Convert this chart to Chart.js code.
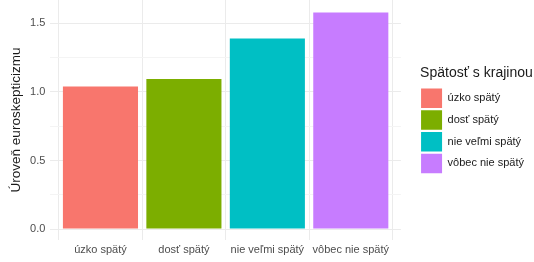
<!DOCTYPE html>
<html>
<head>
<meta charset="utf-8">
<script src="https://cdn.jsdelivr.net/npm/chart.js@4"></script>
<style>
  html, body { margin: 0; padding: 0; background: #ffffff; }
  #wrap { width: 534px; height: 262px; }
</style>
</head>
<body>
<div id="wrap"><canvas id="euroChart"></canvas></div>
<script>
// Data
const categories = ['úzko spätý', 'dosť spätý', 'nie veľmi spätý', 'vôbec nie spätý'];
const values = [1.04, 1.095, 1.39, 1.58];
const barColors = ['#F8766D', '#7CAE00', '#00BFC4', '#C77CFF'];
const yTicks = [0, 0.25, 0.5, 0.75, 1.0, 1.25, 1.5];
const legendTitle = 'Spätosť s krajinou';
const yTitle = 'Úroveň euroskepticizmu';

Chart.defaults.font.family = "'Liberation Sans', Arial, sans-serif";
Chart.defaults.color = '#4d4d4d';

// space kept between the plot and the legend, legend pushed back to the edge
const legendGap = 18;
const legendLift = 10;

const legendShift = {
    id: 'legendShift',
    afterLayout: function(chart) {
        const lg = chart.legend;
        if (!lg) return;
        lg.left += legendGap;
        lg.right += legendGap;
        lg.top -= legendLift;
        lg.bottom -= legendLift;
    }
};

const ctx = document.getElementById('euroChart').getContext('2d');

new Chart(ctx, {
    type: 'bar',
    data: {
        datasets: [{
            label: legendTitle,
            data: values.map((v, i) => ({ x: i + 1, y: v })),
            backgroundColor: barColors,
            borderWidth: 0,
            barPercentage: 0.9,
            categoryPercentage: 1.0
        }]
    },
    options: {
        responsive: true,
        maintainAspectRatio: false,
        animation: false,
        layout: { padding: { top: 0, right: legendGap, left: 0, bottom: 0 } },
        plugins: {
            tooltip: { enabled: false },
            legend: {
                position: 'right',
                align: 'center',
                title: {
                    display: true,
                    text: legendTitle,
                    color: '#1a1a1a',
                    font: { size: 14 },
                    padding: { top: 0, bottom: 3 }
                },
                labels: {
                    boxWidth: 21,
                    boxHeight: 19.5,
                    padding: 2.2,
                    color: '#1a1a1a',
                    font: { size: 11 },
                    generateLabels: function(chart) {
                        return categories.map((c, i) => ({
                            text: c,
                            fillStyle: barColors[i],
                            strokeStyle: barColors[i],
                            lineWidth: 0,
                            hidden: false,
                            index: i
                        }));
                    }
                },
                onClick: function() {}
            }
        },
        scales: {
            x: {
                type: 'linear',
                min: 0.4,
                max: 4.6,
                offset: false,
                afterBuildTicks: function(axis) {
                    axis.ticks = categories.map((c, i) => ({ value: i + 1 }));
                },
                afterFit: function(axis) {
                    axis.height = 22;
                },
                ticks: {
                    callback: function(value) { return categories[value - 1]; },
                    font: { size: 11 },
                    color: '#4d4d4d',
                    padding: 3,
                    maxRotation: 0,
                    autoSkip: false
                },
                grid: { color: '#ebebeb', drawTicks: false },
                border: { display: false }
            },
            y: {
                min: -0.080,
                max: 1.671,
                afterBuildTicks: function(axis) {
                    axis.ticks = yTicks.map(v => ({ value: v }));
                },
                afterFit: function(axis) {
                    axis.width = 50.4;
                    axis.paddingTop = 0;
                    axis.paddingBottom = 0;
                },
                ticks: {
                    callback: function(value) {
                        return (value * 2) % 1 === 0 ? value.toFixed(1) : '';
                    },
                    font: { size: 11 },
                    color: '#4d4d4d',
                    padding: 5
                },
                grid: {
                    drawTicks: false,
                    color: function(c) {
                        return (c.tick.value * 2) % 1 === 0 ? '#ebebeb' : '#f4f4f4';
                    }
                },
                border: { display: false },
                title: {
                    display: true,
                    text: yTitle,
                    color: '#1a1a1a',
                    font: { size: 13.5 },
                    padding: { top: 8, bottom: 0 }
                }
            }
        }
    },
    plugins: [legendShift]
});
</script>
</body>
</html>
